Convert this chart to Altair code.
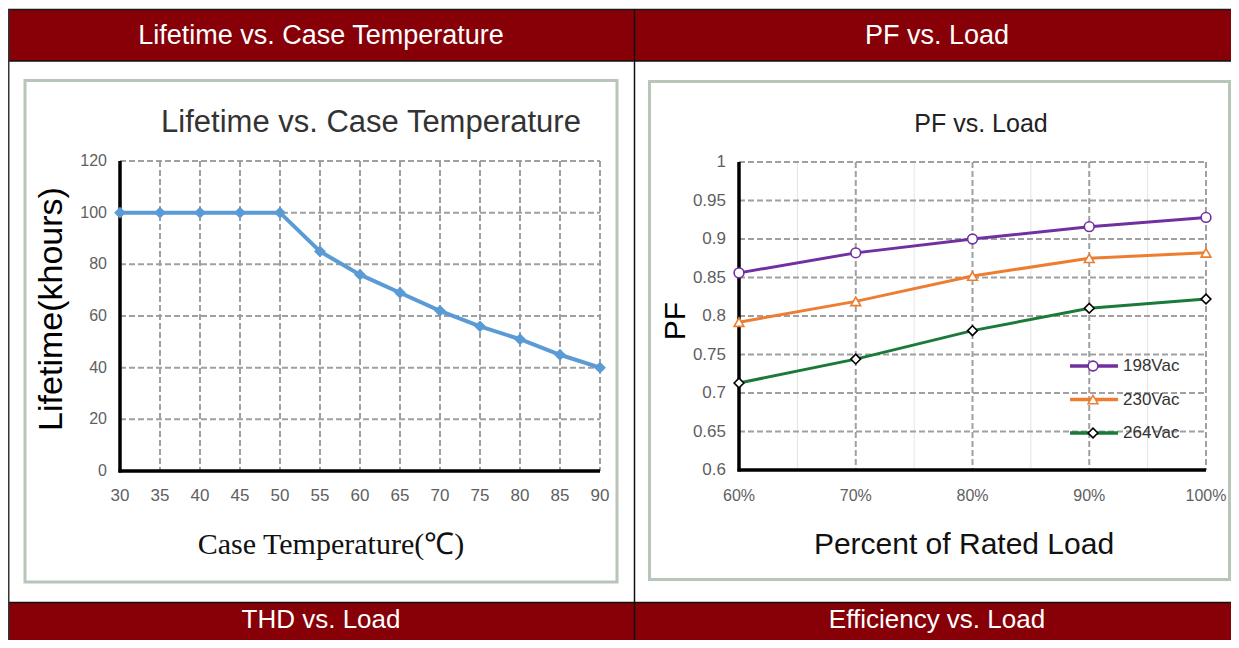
import altair as alt
import pandas as pd

# ---------------- data ----------------
temp = [30, 35, 40, 45, 50, 55, 60, 65, 70, 75, 80, 85, 90]
lifetime = [100, 100, 100, 100, 100, 85, 76, 69, 62, 56, 51, 45, 40]
life_yticks = [0, 20, 40, 60, 80, 100, 120]
life_xticks = [30, 35, 40, 45, 50, 55, 60, 65, 70, 75, 80, 85, 90]

load = [60, 70, 80, 90, 100]
pf_198 = [0.856, 0.882, 0.900, 0.916, 0.928]
pf_230 = [0.792, 0.819, 0.852, 0.875, 0.882]
pf_264 = [0.713, 0.744, 0.781, 0.810, 0.822]
series = ["198Vac", "230Vac", "264Vac"]
pf_yticks = [0.6, 0.65, 0.7, 0.75, 0.8, 0.85, 0.9, 0.95, 1.0]
pf_ylabels = ["0.6", "0.65", "0.7", "0.75", "0.8", "0.85", "0.9", "0.95", "1"]
pf_xticks = [60, 70, 80, 90, 100]
pf_xlabels = ["60%", "70%", "80%", "90%", "100%"]
pf_minor = [65, 75, 85, 95]

headers = ["Lifetime vs. Case Temperature", "PF vs. Load", "THD vs. Load", "Efficiency vs. Load"]

# ---------------- helpers ----------------
M = 8  # page margin
W, H = 1239 - 2 * M, 648 - 2 * M
XMAX, YMAX = M + W, M + H


def P(v):
    return v - M


one = pd.DataFrame({"k": [0]})
SANS = "Liberation Sans"
SERIF = "Liberation Serif"
RED = "#870007"
GRID = "#a0a0a0"
TICK = "#5f5f5f"


def rect(x1, y1, x2, y2, **kw):
    return alt.Chart(one).mark_rect(**kw).encode(
        x=alt.value(P(x1)), x2=alt.value(P(x2)), y=alt.value(P(y1)), y2=alt.value(P(y2)))


def rule(x1, y1, x2, y2, **kw):
    return alt.Chart(one).mark_rule(**kw).encode(
        x=alt.value(P(x1)), x2=alt.value(P(x2)), y=alt.value(P(y1)), y2=alt.value(P(y2)))


def label(txt, x, y, size, font=SANS, color="#000000", angle=0, align="center"):
    return alt.Chart(one).mark_text(text=txt, fontSize=size, font=font, color=color,
                                    angle=angle, align=align, baseline="middle").encode(
        x=alt.value(P(x)), y=alt.value(P(y)))


layers = []

# ---------------- table frame ----------------
layers += [
    rect(8, 10, 634, 61, color=RED),
    rect(635, 10, XMAX, 61, color=RED),
    rect(8, 603, 634, YMAX, color=RED),
    rect(635, 603, XMAX, YMAX, color=RED),
    rule(8, 9.5, XMAX, 9.5, color="#1a1a1a", strokeWidth=1.5),
    rule(8, 61, XMAX, 61, color="#111111", strokeWidth=1.5),
    rule(8, 602.5, XMAX, 602.5, color="#111111", strokeWidth=1.5),
    rule(8.5, 9, 8.5, YMAX, color="#333333", strokeWidth=2),
    rule(634.5, 9, 634.5, YMAX, color="#111111", strokeWidth=1.5),
    label(headers[0], 321, 36, 27, color="#ffffff"),
    label(headers[1], 937, 36, 27, color="#ffffff"),
    label(headers[2], 321, 620, 26, color="#ffffff"),
    label(headers[3], 937, 620, 26, color="#ffffff"),
    # chart boxes
    rect(25, 80.5, 617, 582, fill="#ffffff", stroke="#b7c6b9", strokeWidth=3),
    rect(649.5, 81.5, 1229.5, 579.5, fill="#ffffff", stroke="#b7c6b9", strokeWidth=3),
]

# ---------------- left chart: Lifetime ----------------
LX0, LX1, LY0, LY1 = 120, 600, 471, 161
lx = alt.Scale(domain=[30, 90], range=[P(LX0), P(LX1)], nice=False, zero=False)
ly = alt.Scale(domain=[0, 120], range=[P(LY0), P(LY1)], nice=False)

df_life = pd.DataFrame({"t": temp, "l": lifetime})
df_lyt = pd.DataFrame({"v": life_yticks})
df_lxt = pd.DataFrame({"v": life_xticks})

layers += [
    alt.Chart(df_lyt[df_lyt.v > 0]).mark_rule(color=GRID, strokeWidth=2, strokeDash=[6, 3]).encode(
        x=alt.value(P(LX0)), x2=alt.value(P(LX1)), y=alt.Y("v:Q", scale=ly, axis=None)),
    alt.Chart(df_lxt[df_lxt.v > 30]).mark_rule(color=GRID, strokeWidth=2, strokeDash=[6, 3]).encode(
        x=alt.X("v:Q", scale=lx, axis=None), y=alt.value(P(LY1)), y2=alt.value(P(LY0))),
    rule(LX0, LY1, LX0, LY0 + 1.5, color="#000000", strokeWidth=3.5),
    rule(LX0 - 1.5, LY0, LX1, LY0, color="#000000", strokeWidth=3.5),
    alt.Chart(df_lyt).mark_text(align="right", baseline="middle", fontSize=16, font=SANS, color=TICK).encode(
        x=alt.value(P(107)), y=alt.Y("v:Q", scale=ly, axis=None), text="v:Q"),
    alt.Chart(df_lxt).mark_text(align="center", baseline="middle", fontSize=17, font=SANS, color=TICK).encode(
        x=alt.X("v:Q", scale=lx, axis=None), y=alt.value(P(496)), text="v:Q"),
    alt.Chart(df_life).mark_line(color="#5b9bd5", strokeWidth=4).encode(
        x=alt.X("t:Q", scale=lx, axis=None), y=alt.Y("l:Q", scale=ly, axis=None)),
    alt.Chart(df_life).mark_point(shape="diamond", filled=True, size=140, color="#5b9bd5", opacity=1).encode(
        x=alt.X("t:Q", scale=lx, axis=None), y=alt.Y("l:Q", scale=ly, axis=None)),
    label("Lifetime vs. Case Temperature", 371, 123, 31, color="#333333"),
    label("Lifetime(khours)", 52, 309, 34, angle=270),
    label("Case Temperature(\u2103)", 331, 545, 30, font=SERIF, color="#111111"),
]

# ---------------- right chart: PF ----------------
RX0, RX1, RY0, RY1 = 739, 1206, 470, 162
rx = alt.Scale(domain=[60, 100], range=[P(RX0), P(RX1)], nice=False, zero=False)
ry = alt.Scale(domain=[0.6, 1.0], range=[P(RY0), P(RY1)], nice=False, zero=False)
colors = ["#7030a0", "#ed7d31", "#1b7a3a"]
strokes = ["#7030a0", "#ed7d31", "#000000"]
shapes = ["circle", "triangle-up", "diamond"]
cscale = alt.Scale(domain=series, range=colors)
sscale = alt.Scale(domain=series, range=strokes)
shscale = alt.Scale(domain=series, range=shapes)

df_pf = pd.DataFrame({
    "x": load * 3,
    "y": pf_198 + pf_230 + pf_264,
    "s": [series[0]] * 5 + [series[1]] * 5 + [series[2]] * 5,
})
df_ryt = pd.DataFrame({"v": pf_yticks, "lab": pf_ylabels})
df_rxt = pd.DataFrame({"v": pf_xticks, "lab": pf_xlabels})
df_minor = pd.DataFrame({"v": pf_minor})
df_leg = pd.DataFrame({"s": series})
legy = alt.Scale(type="point", domain=series, range=[P(366), P(433)], padding=0)

layers += [
    alt.Chart(df_minor).mark_rule(color="#e3e3e3", strokeWidth=1).encode(
        x=alt.X("v:Q", scale=rx, axis=None), y=alt.value(P(RY1)), y2=alt.value(P(RY0))),
    alt.Chart(df_ryt[df_ryt.v > 0.61]).mark_rule(color=GRID, strokeWidth=2, strokeDash=[6, 3]).encode(
        x=alt.value(P(RX0)), x2=alt.value(P(RX1)), y=alt.Y("v:Q", scale=ry, axis=None)),
    alt.Chart(df_rxt[df_rxt.v > 60]).mark_rule(color=GRID, strokeWidth=2, strokeDash=[6, 3]).encode(
        x=alt.X("v:Q", scale=rx, axis=None), y=alt.value(P(RY1)), y2=alt.value(P(RY0))),
    rule(RX0, RY1, RX0, RY0 + 1.5, color="#000000", strokeWidth=3.5),
    rule(RX0 - 1.5, RY0, RX1, RY0, color="#000000", strokeWidth=3.5),
    alt.Chart(df_ryt).mark_text(align="right", baseline="middle", fontSize=17, font=SANS, color=TICK).encode(
        x=alt.value(P(726)), y=alt.Y("v:Q", scale=ry, axis=None), text="lab:N"),
    alt.Chart(df_rxt).mark_text(align="center", baseline="middle", fontSize=16, font=SANS, color=TICK).encode(
        x=alt.X("v:Q", scale=rx, axis=None), y=alt.value(P(496)), text="lab:N"),
    alt.Chart(df_pf).mark_line(strokeWidth=3).encode(
        x=alt.X("x:Q", scale=rx, axis=None), y=alt.Y("y:Q", scale=ry, axis=None),
        color=alt.Color("s:N", scale=cscale, legend=None), detail="s:N"),
    alt.Chart(df_pf).mark_point(filled=True, fill="#ffffff", size=95, strokeWidth=1.6, opacity=1).encode(
        x=alt.X("x:Q", scale=rx, axis=None), y=alt.Y("y:Q", scale=ry, axis=None),
        stroke=alt.Stroke("s:N", scale=sscale, legend=None),
        shape=alt.Shape("s:N", scale=shscale, legend=None)),
    # legend
    alt.Chart(df_leg).mark_rule(strokeWidth=3.5).encode(
        x=alt.value(P(1070)), x2=alt.value(P(1118)), y=alt.Y("s:N", scale=legy, axis=None),
        color=alt.Color("s:N", scale=cscale, legend=None)),
    alt.Chart(df_leg).mark_point(filled=True, fill="#ffffff", size=95, strokeWidth=1.6, opacity=1).encode(
        x=alt.value(P(1093)), y=alt.Y("s:N", scale=legy, axis=None),
        stroke=alt.Stroke("s:N", scale=sscale, legend=None),
        shape=alt.Shape("s:N", scale=shscale, legend=None)),
    alt.Chart(df_leg).mark_text(align="left", baseline="middle", fontSize=17, font=SANS, color="#333333").encode(
        x=alt.value(P(1123)), y=alt.Y("s:N", scale=legy, axis=None), text="s:N"),
    label("PF vs. Load", 981, 124, 25, color="#222222"),
    label("PF", 676, 321, 30, angle=270),
    label("Percent of Rated Load", 964, 545, 30, color="#111111"),
]

chart = alt.layer(*layers).resolve_scale(
    x="independent", y="independent", color="independent",
    stroke="independent", shape="independent"
).properties(
    width=W, height=H,
    autosize=alt.AutoSizeParams(type="none"),
    padding=0,
    background="#ffffff",
).configure_view(stroke=None)

chart.save("out.html", embed_options={"renderer": "svg", "actions": False})
